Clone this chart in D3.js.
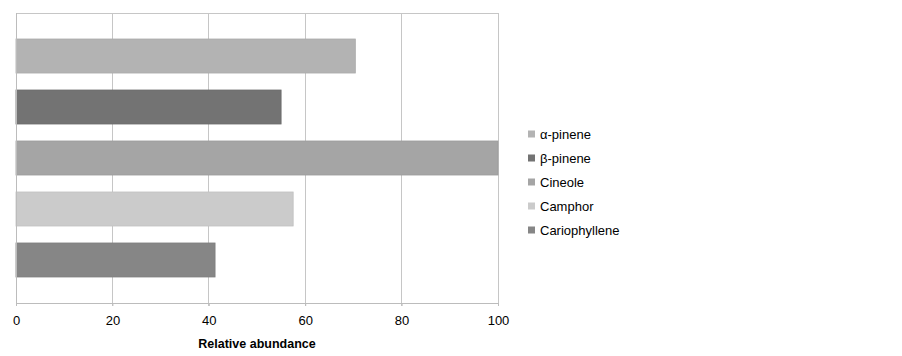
<!DOCTYPE html>
<html lang="en">
<head>
<meta charset="UTF-8" />
<title>Relative abundance</title>
<script src="https://d3js.org/d3.v7.min.js"></script>
<style>
  body { margin: 0; background: #fff; }
  text { font-family: "Liberation Sans", Arial, sans-serif; fill: #000; }
</style>
</head>
<body>
<div id="chart"></div>
<script>
// data
const compounds = ["α-pinene", "β-pinene", "Cineole", "Camphor", "Cariophyllene"];
const abundance = [70.4, 55.0, 100, 57.5, 41.3];
const barColors = ["#b3b3b3", "#737373", "#a5a5a5", "#cbcbcb", "#868686"];
const xTicks = [0, 20, 40, 60, 80, 100];

const W = 902, H = 356;
const plot = { left: 16, right: 498, top: 13, bottom: 303 };

const svg = d3.select("#chart").append("svg")
  .attr("width", W).attr("height", H);

const x = d3.scaleLinear().domain([0, 100]).range([plot.left, plot.right]);
const y = d3.scaleBand().domain(compounds)
  .range([plot.top, plot.bottom])
  .paddingInner(0.333).paddingOuter(0.51);

// gridlines + top border
svg.append("g").selectAll("line").data(xTicks.slice(1)).join("line")
  .attr("x1", d => x(d)).attr("x2", d => x(d))
  .attr("y1", plot.top).attr("y2", plot.bottom + 3)
  .attr("stroke", "#c6c6c6").attr("shape-rendering", "crispEdges");
svg.append("line")
  .attr("x1", plot.left).attr("x2", plot.right)
  .attr("y1", plot.top).attr("y2", plot.top)
  .attr("stroke", "#c6c6c6").attr("shape-rendering", "crispEdges");

// bars
svg.append("g").selectAll("rect").data(compounds).join("rect")
  .attr("x", x(0))
  .attr("y", d => y(d))
  .attr("width", (d, i) => x(abundance[i]) - x(0))
  .attr("height", y.bandwidth())
  .attr("fill", (d, i) => barColors[i])
  .attr("stroke", (d, i) => d3.color(barColors[i]).darker(0.15))
  .attr("stroke-width", 0.8);

// left axis line
svg.append("line")
  .attr("x1", plot.left).attr("x2", plot.left)
  .attr("y1", plot.top).attr("y2", plot.bottom)
  .attr("stroke", "#bcbcbc").attr("shape-rendering", "crispEdges");

// bottom axis
const xAxis = svg.append("g")
  .attr("transform", `translate(0,${plot.bottom})`)
  .call(d3.axisBottom(x).tickValues(xTicks).tickSize(3).tickPadding(10));
xAxis.select(".domain").attr("stroke", "#bcbcbc").attr("shape-rendering", "crispEdges");
xAxis.selectAll(".tick line").attr("stroke", "#bcbcbc");
xAxis.selectAll(".tick text")
  .style("font-family", "'Liberation Sans', Arial, sans-serif")
  .style("font-size", "13px").attr("fill", "#000");

svg.append("text")
  .attr("x", (plot.left + plot.right) / 2).attr("y", 348)
  .attr("text-anchor", "middle")
  .style("font-size", "12.5px").style("font-weight", "bold")
  .text("Relative abundance");

// legend
const legend = svg.append("g").attr("transform", "translate(528,134)");
compounds.forEach((c, i) => {
  legend.append("rect")
    .attr("x", 0).attr("y", i * 24 - 3.5)
    .attr("width", 7).attr("height", 7)
    .attr("fill", barColors[i]);
  legend.append("text")
    .attr("x", 12).attr("y", i * 24)
    .attr("dy", "0.35em")
    .style("font-size", "13px")
    .text(c);
});
</script>
</body>
</html>
